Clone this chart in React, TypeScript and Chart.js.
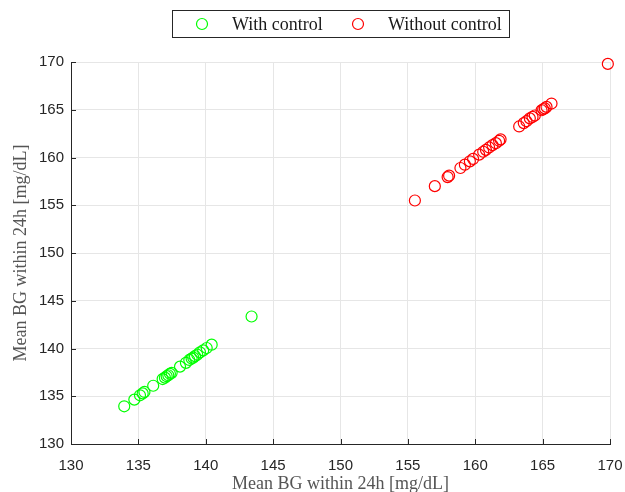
import React, { useEffect, useRef } from "react";
import { Chart, registerables } from "chart.js";

Chart.register(...registerables);

const seriesNames = ["With control", "Without control"];
const seriesColors = ["#00ff00", "#ff0000"];

const withControlX = [133.95, 134.7, 135.12, 135.32, 135.45, 136.1, 136.8, 136.97, 137.1, 137.22, 137.34, 137.47, 138.09, 138.53, 138.78, 138.95, 139.07, 139.2, 139.37, 139.57, 139.81, 140.07, 140.44, 143.4];
const withControlY = [133.95, 134.65, 135.1, 135.3, 135.45, 136.1, 136.8, 136.95, 137.1, 137.2, 137.35, 137.45, 138.1, 138.5, 138.8, 138.95, 139.05, 139.2, 139.35, 139.6, 139.8, 140.05, 140.4, 143.35];

const withoutControlX = [155.52, 157.0, 157.95, 158.06, 158.9, 159.23, 159.6, 159.84, 160.29, 160.59, 160.79, 161.03, 161.28, 161.53, 161.77, 161.88, 163.26, 163.6, 163.8, 164.05, 164.25, 164.42, 164.92, 165.04, 165.16, 165.29, 165.66, 169.84];
const withoutControlY = [155.5, 157.0, 157.95, 158.1, 158.9, 159.25, 159.6, 159.85, 160.3, 160.6, 160.8, 161.05, 161.3, 161.5, 161.75, 161.9, 163.25, 163.6, 163.8, 164.1, 164.25, 164.4, 164.95, 165.05, 165.15, 165.3, 165.65, 169.8];

const axisMin = 130;
const axisMax = 170;
const tickStep = 5;
const xTitle = "Mean BG within 24h [mg/dL]";
const yTitle = "Mean BG within 24h [mg/dL]";

const serif = "'Liberation Serif', 'Times New Roman', serif";
const sans = "'Liberation Sans', Arial, sans-serif";

const toPoints = (xs: number[], ys: number[]) => xs.map((x, i) => ({ x, y: ys[i] }));

const innerTicksAndLegend = {
  id: "innerTicksAndLegend",
  afterDraw(chart: any) {
    const ctx = chart.ctx;
    const xs = chart.scales.x;
    const ys = chart.scales.y;
    const area = chart.chartArea;
    ctx.save();
    ctx.strokeStyle = "#262626";
    ctx.lineWidth = 1;
    ctx.beginPath();
    xs.ticks.forEach((t: any) => {
      const px = Math.round(xs.getPixelForValue(t.value)) + 0.5;
      ctx.moveTo(px, area.bottom);
      ctx.lineTo(px, area.bottom - 5);
    });
    ys.ticks.forEach((t: any) => {
      const py = Math.round(ys.getPixelForValue(t.value)) + 0.5;
      ctx.moveTo(area.left, py);
      ctx.lineTo(area.left + 5, py);
    });
    ctx.stroke();

    // legend box
    const bx = 172.5, by = 10.5, bw = 337, bh = 27;
    ctx.fillStyle = "#ffffff";
    ctx.fillRect(bx, by, bw, bh);
    ctx.strokeStyle = "#262626";
    ctx.strokeRect(bx, by, bw, bh);
    const cy = by + bh / 2;
    const entries = [
      { cx: 202, tx: 232 },
      { cx: 358, tx: 388 },
    ];
    ctx.font = `18px ${serif}`;
    ctx.textBaseline = "middle";
    ctx.textAlign = "left";
    chart.data.datasets.forEach((ds: any, i: number) => {
      const e = entries[i];
      ctx.beginPath();
      ctx.strokeStyle = ds.borderColor;
      ctx.lineWidth = 1.2;
      ctx.arc(e.cx, cy, 5.5, 0, Math.PI * 2);
      ctx.stroke();
      ctx.fillStyle = "#1a1a1a";
      ctx.fillText(ds.label, e.tx, cy + 1);
    });
    ctx.restore();
  },
};

export default function App() {
  const ref = useRef<HTMLCanvasElement | null>(null);
  useEffect(() => {
    document.body.style.margin = "0";
    if (!ref.current) return;
    const chart = new Chart(ref.current, {
      type: "scatter",
      data: {
        datasets: [
          {
            label: seriesNames[0],
            data: toPoints(withControlX, withControlY),
            borderColor: seriesColors[0],
            backgroundColor: "rgba(0,0,0,0)",
            pointRadius: 5.5,
            pointBorderWidth: 1.2,
            clip: false,
          },
          {
            label: seriesNames[1],
            data: toPoints(withoutControlX, withoutControlY),
            borderColor: seriesColors[1],
            backgroundColor: "rgba(0,0,0,0)",
            pointRadius: 5.5,
            pointBorderWidth: 1.2,
            clip: false,
          },
        ],
      },
      options: {
        animation: false,
        responsive: false,
        layout: { padding: { top: 62, right: 15, left: 0, bottom: 0 } },
        plugins: {
          legend: { display: false },
          tooltip: { enabled: false },
        },
        scales: {
          x: {
            type: "linear",
            min: axisMin,
            max: axisMax,
            ticks: {
              stepSize: tickStep,
              color: "#262626",
              font: { family: sans, size: 15 },
              padding: 13,
              maxRotation: 0,
            },
            grid: { color: "#e6e6e6", drawTicks: false, lineWidth: 1 },
            border: { display: true, color: "#262626", width: 1 },
            title: {
              display: true,
              text: xTitle,
              color: "#555555",
              font: { family: serif, size: 18 },
              padding: { top: 0, bottom: -3 },
            },
            afterFit: (s: any) => {
              s.height = 48;
              s.paddingLeft = 0;
              s.paddingRight = 0;
            },
          },
          y: {
            type: "linear",
            min: axisMin,
            max: axisMax,
            ticks: {
              stepSize: tickStep,
              color: "#262626",
              font: { family: sans, size: 15 },
              padding: 7,
            },
            grid: { color: "#e6e6e6", drawTicks: false, lineWidth: 1 },
            border: { display: true, color: "#262626", width: 1 },
            title: {
              display: true,
              text: yTitle,
              color: "#555555",
              font: { family: serif, size: 18 },
              padding: { top: 10, bottom: 0 },
            },
            afterFit: (s: any) => {
              s.width = 71;
              s.paddingTop = 0;
              s.paddingBottom = 0;
            },
          },
        },
      },
      plugins: [innerTicksAndLegend],
    });
    return () => chart.destroy();
  }, []);
  return (
    <div style={{ position: "absolute", left: 0, top: 0, width: 625, height: 492, background: "#fff" }}>
      <canvas ref={ref} width={625} height={492} />
    </div>
  );
}
